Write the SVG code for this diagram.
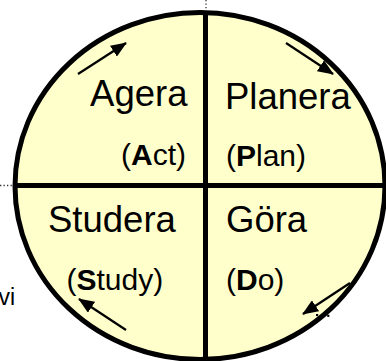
<svg xmlns="http://www.w3.org/2000/svg" width="386" height="361" viewBox="0 0 386 361">
<style>
.lbl{font-family:"Liberation Sans",Arial,sans-serif;font-size:36.5px;fill:#000}
.sub{font-family:"Liberation Sans",Arial,sans-serif;font-size:30px;fill:#000}
.b{font-weight:bold}
.edge{stroke:#000;stroke-width:5;fill:none}
.arr{stroke:#000;stroke-width:2.2;fill:none;marker-end:url(#ah)}
.dot{stroke:#333;stroke-width:1.3;stroke-dasharray:1.3 2.2;fill:none}
</style>
<defs>
<marker id="ah" viewBox="0 0 16 13" refX="15" refY="6.5" markerUnits="userSpaceOnUse" markerWidth="16" markerHeight="13" orient="auto">
<path d="M0,0 L16,6.5 L0,13 Z" fill="#000"/>
</marker>
</defs>
<g id="cycle">
<ellipse cx="200" cy="186" rx="185" ry="173.5" fill="#FFFFCC" stroke="#000" stroke-width="5"/>
<line class="edge" x1="205.5" y1="12" x2="205.5" y2="361"/>
<line class="edge" x1="15" y1="185.5" x2="385" y2="185.5"/>
</g>
<g id="act">
<text class="lbl" x="187.5" y="106" text-anchor="end">Agera</text>
<text class="sub" x="186" y="165" text-anchor="end">(<tspan class="b">A</tspan>ct)</text>
</g>
<g id="plan">
<text class="lbl" x="225" y="109">Planera</text>
<text class="sub" x="226" y="166">(<tspan class="b">P</tspan>lan)</text>
</g>
<g id="study">
<text class="lbl" x="48" y="232">Studera</text>
<text class="sub" x="66.5" y="290">(<tspan class="b">S</tspan>tudy)</text>
</g>
<g id="do">
<text class="lbl" x="226" y="232">Göra</text>
<text class="sub" x="226" y="290">(<tspan class="b">D</tspan>o)</text>
</g>
<g id="connectors">
<line class="arr" x1="78" y1="74" x2="126" y2="43"/>
<line class="arr" x1="286" y1="43" x2="333" y2="74"/>
<line class="arr" x1="350" y1="283" x2="303" y2="314"/>
<line class="arr" x1="126" y1="330" x2="79" y2="299"/>
<line class="dot" x1="206" y1="0" x2="206" y2="9"/>
<line class="dot" x1="0" y1="185.5" x2="12" y2="185.5"/>
<line stroke="#000" stroke-width="2.2" stroke-dasharray="2.2 9" x1="316" y1="315" x2="331" y2="316"/>
</g>
<text x="-1.5" y="305" font-family="Liberation Sans, Arial, sans-serif" font-size="23" fill="#000">vi</text>
</svg>
